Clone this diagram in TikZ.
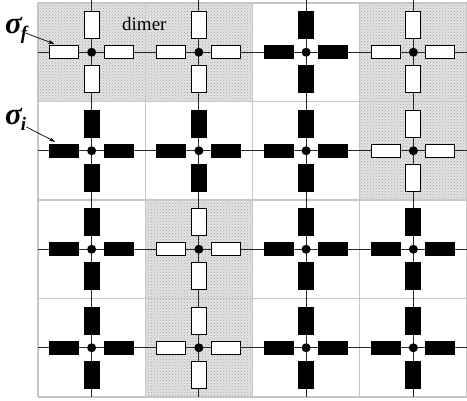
\documentclass[tikz,border=0pt]{standalone}
\usepackage{fontspec}
\setmainfont{Liberation Serif}
\usetikzlibrary{arrows.meta,patterns}

\tikzset{
  cellshade/.style={fill=gray!22, postaction={pattern=crosshatch dots, pattern color=gray!70}},
  gridline/.style={draw=gray!45, line width=1.4pt},
  bondline/.style={draw=black!85, line width=1.2pt},
  spinw/.style={draw=black, fill=white, line width=0.9pt, inner sep=0pt},
  spinb/.style={draw=black, fill=black, line width=0.9pt, inner sep=0pt},
  hbar/.style={minimum width=29pt, minimum height=13pt},
  vbar/.style={minimum width=15pt, minimum height=27pt},
  vdot/.style={circle, fill=black, inner sep=0pt, minimum size=9pt},
  siglabel/.style={anchor=base west, inner sep=0pt, font=\fontsize{31}{33}\selectfont\bfseries\itshape},
}

\begin{document}
\begin{tikzpicture}[x=1pt, y=-1pt]
  \useasboundingbox (0,0) rectangle (467,400);

  %% Shaded (flipped) cells
  \foreach \c/\r in {0/0, 1/0, 3/0, 3/1, 1/2, 1/3}{
    \fill[cellshade] (38+107.25*\c,3+98.5*\r) rectangle ++(107.25,98.5);
  }

  %% Cell borders
  \foreach \i in {0,...,4}{
    \draw[gridline] (38+107.25*\i,3) -- (38+107.25*\i,397);
    \draw[gridline] (38,3+98.5*\i) -- (467,3+98.5*\i);
  }

  %% Lattice lines
  \foreach \i in {0,...,3}{
    \draw[bondline] (38,3+98.5*\i+49.25) -- (467,3+98.5*\i+49.25);
    \draw[bondline] (38+107.25*\i+53.6,0) -- (38+107.25*\i+53.6,397);
  }

  %% Sites: four bars and a dot each
  \foreach \c/\r/\s in {0/0/spinw, 1/0/spinw, 2/0/spinb, 3/0/spinw,
                        0/1/spinb, 1/1/spinb, 2/1/spinb, 3/1/spinw,
                        0/2/spinb, 1/2/spinw, 2/2/spinb, 3/2/spinb,
                        0/3/spinb, 1/3/spinw, 2/3/spinb, 3/3/spinb}{
    \pgfmathsetmacro\cx{38+107.25*(\c+0.5)}
    \pgfmathsetmacro\cy{3+98.5*(\r+0.5)}
    \node[\s, hbar] (l-\c-\r) at (\cx-27.5,\cy) {};
    \node[\s, hbar] (r-\c-\r) at (\cx+27,\cy) {};
    \node[\s, vbar] (u-\c-\r) at (\cx,\cy-27) {};
    \node[\s, vbar] (d-\c-\r) at (\cx,\cy+27) {};
    \node[vdot] (v-\c-\r) at (\cx,\cy) {};
  }

  %% Labels
  \node[siglabel] (sigf) at (5,33)
    {σ\kern-1pt\raisebox{-6pt}{\fontsize{19}{19}\selectfont f}};
  \node[siglabel] (sigi) at (5,124)
    {σ\kern-1pt\raisebox{-6pt}{\fontsize{19}{19}\selectfont i}};
  \draw[-{Stealth[length=6pt,width=4pt]}, line width=0.7pt]
    ([xshift=-2pt,yshift=0pt]sigf.base east) -- ([xshift=5pt,yshift=1.5pt]l-0-0.north west);
  \draw[-{Stealth[length=6pt,width=4pt]}, line width=0.7pt]
    ([xshift=0pt,yshift=-3pt]sigi.base east) -- ([xshift=6pt,yshift=2pt]l-0-1.north west);
  \node[font=\fontsize{19}{21}\selectfont, anchor=base west, inner sep=0pt] (dimer) at (122,30) {dimer};

\end{tikzpicture}
\end{document}
